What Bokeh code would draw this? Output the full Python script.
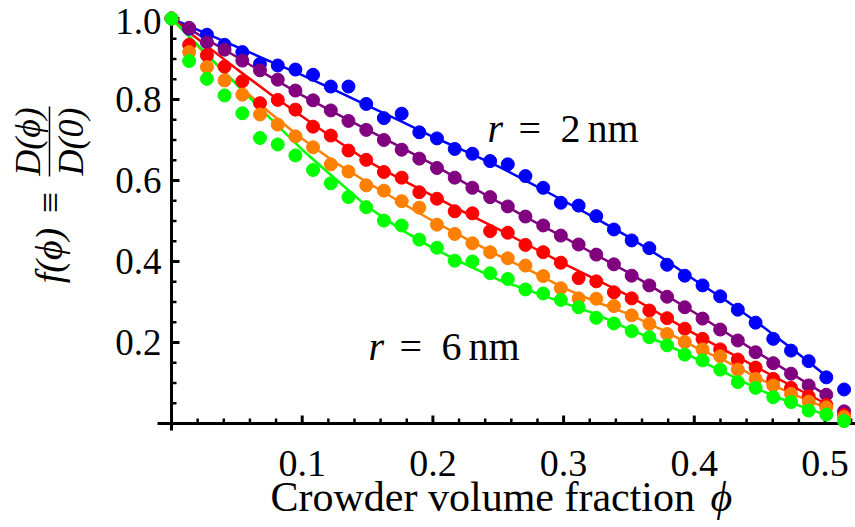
from bokeh.plotting import figure
from bokeh.models import Label, Range1d
from bokeh.core.properties import value
from bokeh.embed import file_html
from bokeh.resources import INLINE
import math

# ---------------- data ----------------
phi = [0.0, 0.0135, 0.0271, 0.0406, 0.0542, 0.0677, 0.0813, 0.0948, 0.1083, 0.1219,
       0.1354, 0.149, 0.1625, 0.1761, 0.1896, 0.2031, 0.2167, 0.2302, 0.2438, 0.2573,
       0.2708, 0.2844, 0.2979, 0.3115, 0.325, 0.3385, 0.3521, 0.3656, 0.3792, 0.3927,
       0.4063, 0.4198, 0.4333, 0.4469, 0.4604, 0.474, 0.4875, 0.501, 0.5146]

f_blue = [1.0, 0.975, 0.960, 0.935, 0.917, 0.888, 0.884, 0.874, 0.861, 0.832,
          0.832, 0.789, 0.754, 0.765, 0.719, 0.704, 0.678, 0.666, 0.648, 0.640,
          0.611, 0.582, 0.545, 0.538, 0.512, 0.479, 0.452, 0.433, 0.392, 0.365,
          0.341, 0.314, 0.281, 0.249, 0.209, 0.180, 0.154, 0.114, 0.084]
f_purple = [1.0, 0.977, 0.941, 0.923, 0.896, 0.872, 0.849, 0.822, 0.798, 0.773,
            0.747, 0.725, 0.700, 0.676, 0.654, 0.631, 0.607, 0.582, 0.559, 0.536,
            0.511, 0.489, 0.464, 0.442, 0.417, 0.393, 0.365, 0.341, 0.313, 0.287,
            0.259, 0.232, 0.205, 0.176, 0.149, 0.123, 0.094, 0.071, 0.030]
f_red = [1.0, 0.935, 0.909, 0.881, 0.845, 0.791, 0.799, 0.775, 0.733, 0.711,
         0.674, 0.651, 0.621, 0.607, 0.571, 0.555, 0.524, 0.519, 0.475, 0.471,
         0.441, 0.423, 0.397, 0.359, 0.351, 0.324, 0.309, 0.279, 0.260, 0.234,
         0.209, 0.183, 0.158, 0.138, 0.110, 0.088, 0.067, 0.046, 0.021]
f_orange = [1.0, 0.917, 0.880, 0.847, 0.812, 0.763, 0.738, 0.709, 0.682, 0.640,
            0.622, 0.588, 0.575, 0.549, 0.533, 0.491, 0.468, 0.445, 0.423, 0.408,
            0.390, 0.364, 0.334, 0.309, 0.308, 0.290, 0.267, 0.246, 0.221, 0.201,
            0.183, 0.166, 0.133, 0.110, 0.094, 0.073, 0.054, 0.040, 0.016]
f_green = [1.0, 0.895, 0.851, 0.810, 0.766, 0.705, 0.689, 0.662, 0.626, 0.593,
           0.559, 0.534, 0.501, 0.489, 0.454, 0.434, 0.402, 0.400, 0.371, 0.357,
           0.331, 0.321, 0.305, 0.287, 0.261, 0.247, 0.228, 0.213, 0.193, 0.170,
           0.156, 0.133, 0.102, 0.088, 0.065, 0.053, 0.032, 0.022, 0.006]

phi_fit = [0.0, 0.025, 0.05, 0.075, 0.1, 0.125, 0.15, 0.175, 0.2, 0.225, 0.25,
           0.275, 0.3, 0.325, 0.35, 0.375, 0.4, 0.425, 0.45, 0.475, 0.5]
fit_blue = [1.0, 0.965, 0.93, 0.895, 0.86, 0.823, 0.785, 0.747, 0.708, 0.672, 0.635,
            0.593, 0.55, 0.506, 0.46, 0.41, 0.355, 0.302, 0.245, 0.184, 0.12]
fit_purple = [1.0, 0.952, 0.905, 0.857, 0.81, 0.767, 0.725, 0.683, 0.64, 0.593, 0.547,
              0.503, 0.46, 0.416, 0.372, 0.323, 0.274, 0.223, 0.172, 0.122, 0.072]
fit_red = [1.0, 0.937, 0.875, 0.815, 0.758, 0.702, 0.648, 0.604, 0.562, 0.52, 0.48,
           0.437, 0.395, 0.355, 0.315, 0.268, 0.222, 0.178, 0.135, 0.092, 0.05]
fit_orange = [1.0, 0.915, 0.838, 0.768, 0.703, 0.645, 0.595, 0.547, 0.50, 0.457, 0.415,
              0.377, 0.335, 0.30, 0.27, 0.232, 0.19, 0.152, 0.11, 0.073, 0.04]
fit_green = [1.0, 0.918, 0.836, 0.755, 0.676, 0.605, 0.535, 0.48, 0.433, 0.393, 0.355,
             0.327, 0.298, 0.27, 0.233, 0.2, 0.162, 0.123, 0.083, 0.05, 0.022]

series_colors = ["#0000ff", "#800080", "#ff0000", "#ff8000", "#00ff00"]

x_ticks = [0.1, 0.2, 0.3, 0.4, 0.5]
x_tick_labels = ["0.1", "0.2", "0.3", "0.4", "0.5"]
x_minor = [0.02, 0.04, 0.06, 0.08, 0.12, 0.14, 0.16, 0.18, 0.22, 0.24, 0.26, 0.28,
           0.32, 0.34, 0.36, 0.38, 0.42, 0.44, 0.46, 0.48, 0.52]
y_ticks = [0.2, 0.4, 0.6, 0.8, 1.0]
y_tick_labels = ["0.2", "0.4", "0.6", "0.8", "1.0"]
y_minor = [0.05, 0.1, 0.15, 0.25, 0.3, 0.35, 0.45, 0.5, 0.55, 0.65, 0.7, 0.75,
           0.85, 0.9, 0.95]

x_title = "Crowder volume fraction"
x_title_sym = "ϕ"

FONT = "Liberation Serif"

# ---------------- figure: the frame covers the whole canvas ----------------
# data <-> canvas pixels:  px = 171 + 1307*phi ,  py = 423 - 405*f
PX = 1307.0
PY = 405.0
p = figure(width=855, height=527, output_backend="svg", toolbar_location=None,
           x_range=Range1d(-171 / PX, 684 / PX), y_range=Range1d(-104 / PY, 423 / PY),
           x_axis_location=None, y_axis_location=None,
           min_border=0)
p.outline_line_color = None
p.grid.visible = False
p.background_fill_color = "white"
p.border_fill_color = "white"

# ---------------- axes drawn at phi = 0 and f = 0 ----------------
p.segment(x0=[-14 / PX], y0=[0], x1=[684 / PX], y1=[0], line_color="black", line_width=3)
p.segment(x0=[0], y0=[-7 / PY], x1=[0], y1=[411 / PY], line_color="black", line_width=3)
# ticks pointing into the plot
p.segment(x0=x_ticks, y0=[0] * len(x_ticks), x1=x_ticks, y1=[8 / PY] * len(x_ticks),
          line_color="black", line_width=3)
p.segment(x0=x_minor, y0=[0] * len(x_minor), x1=x_minor, y1=[5 / PY] * len(x_minor),
          line_color="black", line_width=2.5)
p.segment(x0=[0] * len(y_ticks), y0=y_ticks, x1=[8 / PX] * len(y_ticks), y1=y_ticks,
          line_color="black", line_width=3)
p.segment(x0=[0] * len(y_minor), y0=y_minor, x1=[5 / PX] * len(y_minor), y1=y_minor,
          line_color="black", line_width=2.5)

# tick labels (the top one nudged down so that it stays inside the canvas)
p.text(x=x_ticks, y=[-40 / PY] * len(x_ticks), text=x_tick_labels,
       text_font=value(FONT), text_font_size=value("38px"), text_color="black",
       text_align="center", text_baseline="alphabetic")
y_lab_pos = [min(v, 1.0 - 3 / PY) for v in y_ticks]
p.text(x=[-10 / PX] * len(y_ticks), y=y_lab_pos, text=y_tick_labels,
       text_font=value(FONT), text_font_size=value("37px"), text_color="black",
       text_align="right", text_baseline="middle")

# ---------------- data ----------------
all_pts = [f_blue, f_purple, f_red, f_orange, f_green]
all_fit = [fit_blue, fit_purple, fit_red, fit_orange, fit_green]
for fit, c in zip(all_fit, series_colors):
    p.line(phi_fit, fit, line_color=c, line_width=2.5)
for pts, c in zip(all_pts, series_colors):
    p.scatter(phi, pts, size=13, fill_color=c, line_color=c)


# ---------------- annotations ----------------
def lab(px, py, t, style="normal", size="40px", align="left", baseline="alphabetic",
        angle=0.0):
    p.add_layout(Label(x=(px - 171) / PX, y=(423 - py) / PY, text=t, text_font=FONT,
                       text_font_size=size, text_font_style=style, text_color="black",
                       text_align=align, text_baseline=baseline, angle=angle))


# r = 2 nm
lab(487, 128, "r", style="italic")
lab(518, 128, "=")
lab(560, 128, "2")
lab(587, 128, "nm")
# r = 6 nm
lab(368, 346, "r", style="italic")
lab(399, 346, "=")
lab(441, 346, "6")
lab(468, 346, "nm")

# x axis title
lab(270, 496, x_title, size="42px")
lab(710, 496, x_title_sym, style="italic", size="42px")

# y axis title (rotated, reads bottom to top)
rot = math.pi / 2
lab(48, 255, "f(ϕ)", style="italic", size="38px", align="center", baseline="middle",
    angle=rot)
lab(49, 202, "≡", size="38px", align="center", baseline="middle", angle=rot)
lab(27, 141, "D(ϕ)", style="italic", size="36px", align="center", baseline="middle",
    angle=rot)
lab(70, 141, "D(0)", style="italic", size="36px", align="center", baseline="middle",
    angle=rot)
p.segment(x0=[(49 - 171) / PX], y0=[(423 - 106) / PY], x1=[(49 - 171) / PX],
          y1=[(423 - 176) / PY], line_color="black", line_width=1.5)

open("out.html", "w").write(file_html(p, INLINE))
